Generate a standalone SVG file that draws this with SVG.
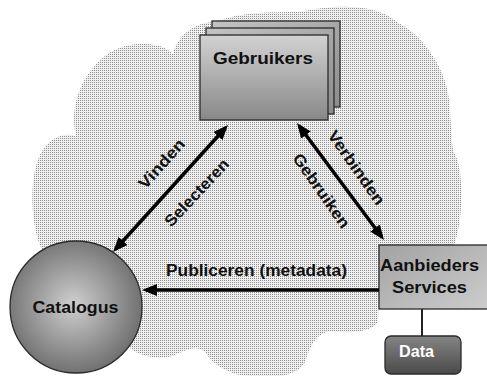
<svg xmlns="http://www.w3.org/2000/svg" width="487" height="376" viewBox="0 0 487 376">
<defs>
<pattern id="dots" width="2" height="2" patternUnits="userSpaceOnUse">
<rect width="2" height="2" fill="#f0f0f0"/>
<rect x="0" y="0" width="1" height="1" fill="#8e8e8e"/>
</pattern>
<linearGradient id="gCard" x1="0" y1="0" x2="0" y2="1">
<stop offset="0" stop-color="#d2d2d2"/><stop offset="1" stop-color="#888"/>
</linearGradient>
<linearGradient id="gBack" x1="0" y1="0" x2="1" y2="1">
<stop offset="0" stop-color="#c4c4c4"/><stop offset="1" stop-color="#8c8c8c"/>
</linearGradient>
<linearGradient id="gServ" x1="0" y1="0" x2="1" y2="1">
<stop offset="0" stop-color="#a2a2a2"/><stop offset="1" stop-color="#cdcdcd"/>
</linearGradient>
<linearGradient id="gData" x1="0" y1="0" x2="0" y2="1">
<stop offset="0" stop-color="#858585"/><stop offset="1" stop-color="#4a4a4a"/>
</linearGradient>
<radialGradient id="gCat" cx="0.48" cy="0.48" r="0.55">
<stop offset="0" stop-color="#cfcfcf"/><stop offset="1" stop-color="#6c6c6c"/>
</radialGradient>
<marker id="ah" viewBox="0 0 15 12" refX="11" refY="6" markerWidth="15" markerHeight="12" markerUnits="userSpaceOnUse" orient="auto-start-reverse">
<path d="M0,0 L15,6 L0,12 Z" fill="#000"/>
</marker>
<style>
.lbl{font-family:"Liberation Sans",Arial,sans-serif;font-weight:bold;font-size:16px;fill:#111;text-anchor:middle}
.nd{stroke:#2a2a2a;stroke-width:1.3}
.con{stroke:#000;stroke-width:3.5;fill:none}
</style>
</defs>

<g id="cloud">
<path fill="url(#dots)" d="M48,258 C30,240 26,172 44,148 C52,137 65,132 76,136 C70,110 78,78 105,56 C125,40 160,40 173,54 C178,35 195,22 215,22 C240,12 270,12 300,12 C330,5 375,2 397,22 C420,34 440,60 447,88 C452,110 450,140 454,152 C464,170 464,215 454,246 L380,250 L378,322 C370,334 345,333 330,331 C316,334 310,346 306,360 C298,378 270,378 255,376 C235,377 215,368 205,352 C196,344 186,350 172,356 C158,360 142,356 132,350 Z"/>
</g>

<g id="node-gebruikers">
<rect class="nd" x="212" y="21" width="128" height="86" fill="url(#gBack)"/>
<rect class="nd" x="206" y="28" width="128" height="86" fill="url(#gBack)"/>
<rect class="nd" x="200" y="35" width="128" height="85" fill="url(#gCard)"/>
<text class="lbl" x="263" y="64" font-size="17" textLength="100" lengthAdjust="spacingAndGlyphs">Gebruikers</text>
</g>

<g id="node-catalogus">
<circle class="nd" cx="76" cy="307" r="66" fill="url(#gCat)" stroke-width="1.6"/>
<text class="lbl" x="75.5" y="313" font-size="17" textLength="86" lengthAdjust="spacingAndGlyphs">Catalogus</text>
</g>

<g id="node-aanbieders">
<rect class="nd" x="379" y="245" width="110" height="64" fill="url(#gServ)"/>
<text class="lbl" x="429.5" y="271" font-size="17" textLength="99" lengthAdjust="spacingAndGlyphs">Aanbieders</text>
<text class="lbl" x="429.5" y="293" font-size="17" textLength="75" lengthAdjust="spacingAndGlyphs">Services</text>
</g>

<g id="node-data">
<rect class="nd" x="385" y="336" width="76" height="38" rx="6" fill="url(#gData)" stroke="#1e1e1e"/>
<text class="lbl" x="416.5" y="357" font-size="16" style="fill:#fff" textLength="35" lengthAdjust="spacingAndGlyphs">Data</text>
</g>

<g id="connectors">
<line x1="422" y1="309" x2="422" y2="336" stroke="#222" stroke-width="2"/>
<line class="con" x1="115.7" y1="249" x2="225.3" y2="128" marker-start="url(#ah)" marker-end="url(#ah)"/>
<line class="con" x1="299.4" y1="126.2" x2="381.6" y2="236.8" marker-start="url(#ah)" marker-end="url(#ah)"/>
<line class="con" x1="379" y1="290" x2="146" y2="290" marker-end="url(#ah)"/>
<text class="lbl" x="0" y="5" transform="translate(162,164) rotate(-48)" textLength="61" lengthAdjust="spacingAndGlyphs">Vinden</text>
<text class="lbl" x="0" y="5" transform="translate(197,193) rotate(-47)" textLength="86" lengthAdjust="spacingAndGlyphs">Selecteren</text>
<text class="lbl" x="0" y="5" transform="translate(356,168) rotate(55)" textLength="87" lengthAdjust="spacingAndGlyphs">Verbinden</text>
<text class="lbl" x="0" y="5" transform="translate(321,191) rotate(55)" textLength="87" lengthAdjust="spacingAndGlyphs">Gebruiken</text>
<text class="lbl" x="256.5" y="276" textLength="181" lengthAdjust="spacingAndGlyphs">Publiceren (metadata)</text>
</g>
</svg>
